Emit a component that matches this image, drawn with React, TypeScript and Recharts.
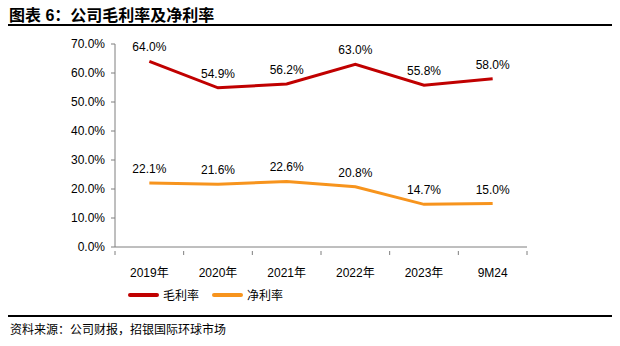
import React from "react";
import { LineChart, Line, XAxis, YAxis, LabelList } from "recharts";

const CATEGORIES = ["2019年", "2020年", "2021年", "2022年", "2023年", "9M24"];
const GROSS_MARGIN = [64.0, 54.9, 56.2, 63.0, 55.8, 58.0];
const NET_MARGIN = [22.1, 21.6, 22.6, 20.8, 14.7, 15.0];
const Y_TICKS = [0, 10, 20, 30, 40, 50, 60, 70];

const RED = "#C00000";
const ORANGE = "#F7941D";
const AXIS = "#7F7F7F";
const LATIN = "'Liberation Sans', Arial, sans-serif";
const CJK = "'Liberation Sans', 'Noto Sans CJK SC', sans-serif";

const data = CATEGORIES.map((name, i) => ({
  name,
  gross: GROSS_MARGIN[i],
  net: NET_MARGIN[i],
}));

const PLOT_LEFT = 115;
const PLOT_RIGHT = 527;
const HALF_BAND = (PLOT_RIGHT - PLOT_LEFT) / CATEGORIES.length / 2;

function XTick(props: any) {
  const { x, y, payload, index } = props;
  return (
    <g>
      {index === 0 && (
        <line x1={x - HALF_BAND} x2={x - HALF_BAND} y1={y} y2={y - 4} stroke={AXIS} />
      )}
      <line x1={x + HALF_BAND} x2={x + HALF_BAND} y1={y} y2={y - 4} stroke={AXIS} />
      <text x={x} y={y + 22} textAnchor="middle" fontSize={12} fill="#000" fontFamily={CJK}>
        {payload.value}
      </text>
    </g>
  );
}

const fmt = (v: any) => `${Number(v).toFixed(1)}%`;

export default function App() {
  return (
    <div
      style={{
        position: "absolute",
        left: 0,
        top: 0,
        width: 620,
        height: 346,
        background: "#fff",
        fontFamily: CJK,
      }}
    >
      <div
        style={{
          position: "absolute",
          left: 9,
          top: 2,
          fontSize: 16,
          fontWeight: "bold",
          color: "#000",
        }}
      >
        图表 6：公司毛利率及净利率
      </div>
      <div style={{ position: "absolute", left: 8, top: 24, width: 604, height: 2, background: "#000" }} />

      <LineChart
        width={620}
        height={346}
        data={data}
        margin={{ top: 44, right: 620 - PLOT_RIGHT, bottom: 69, left: 0 }}
      >
        <XAxis
          dataKey="name"
          scale="band"
          stroke={AXIS}
          tickLine={false}
          tick={<XTick />}
          height={30}
          interval={0}
        />
        <YAxis
          width={PLOT_LEFT}
          domain={[0, 70]}
          ticks={Y_TICKS}
          tickFormatter={fmt}
          stroke={AXIS}
          tickSize={4}
          tickMargin={6}
          tick={{ fill: "#000", fontSize: 12, fontFamily: LATIN }}
          interval={0}
        />
        <Line
          dataKey="gross"
          stroke={RED}
          strokeWidth={3}
          dot={false}
          isAnimationActive={false}
        >
          <LabelList
            dataKey="gross"
            position="top"
            offset={10}
            formatter={fmt}
            style={{ fill: "#000", fontSize: 12, fontFamily: LATIN }}
          />
        </Line>
        <Line
          dataKey="net"
          stroke={ORANGE}
          strokeWidth={3}
          dot={false}
          isAnimationActive={false}
        >
          <LabelList
            dataKey="net"
            position="top"
            offset={10}
            formatter={fmt}
            style={{ fill: "#000", fontSize: 12, fontFamily: LATIN }}
          />
        </Line>
      </LineChart>

      <div
        style={{
          position: "absolute",
          left: 128,
          top: 286,
          display: "flex",
          alignItems: "center",
          fontSize: 12,
          color: "#000",
        }}
      >
        <span style={{ display: "inline-block", width: 31, height: 4, background: RED, borderRadius: 2 }} />
        <span style={{ marginLeft: 4, marginRight: 13 }}>毛利率</span>
        <span style={{ display: "inline-block", width: 31, height: 4, background: ORANGE, borderRadius: 2 }} />
        <span style={{ marginLeft: 4 }}>净利率</span>
      </div>

      <div style={{ position: "absolute", left: 8, top: 315, width: 604, height: 2, background: "#000" }} />
      <div style={{ position: "absolute", left: 10, top: 320, fontSize: 12, color: "#000" }}>
        资料来源：公司财报，招银国际环球市场
      </div>
    </div>
  );
}
